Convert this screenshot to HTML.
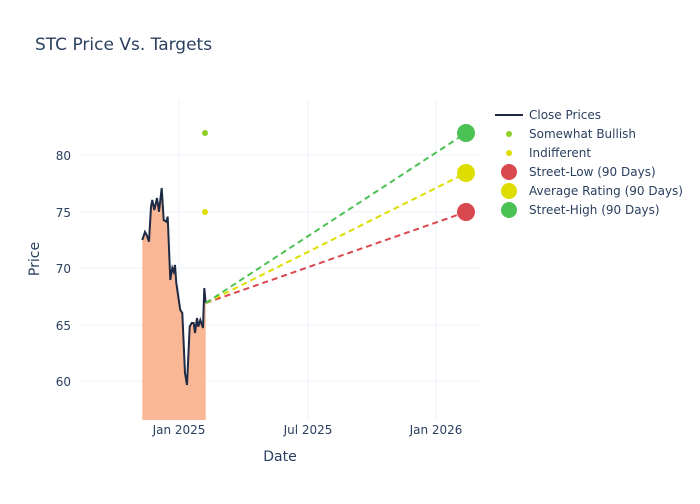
<!DOCTYPE html>
<html><head><style>
body{margin:0;background:#fff;font-family:"DejaVu Sans",sans-serif;}
svg text{font-family:"DejaVu Sans",sans-serif;fill:#2a3f5f;}
</style></head><body>
<svg width="700" height="500" xmlns="http://www.w3.org/2000/svg">
<rect width="700" height="500" fill="#fff"/>
<text x="35" y="50" font-size="17">STC Price Vs. Targets</text>
<g stroke="#ebf0f8" stroke-width="1">
<line x1="80" x2="480" y1="155" y2="155"/><line x1="80" x2="480" y1="212" y2="212"/>
<line x1="80" x2="480" y1="268" y2="268"/><line x1="80" x2="480" y1="325" y2="325"/>
<line x1="80" x2="480" y1="381" y2="381"/>
<line x1="179" x2="179" y1="100" y2="420"/><line x1="308" x2="308" y1="100" y2="420"/>
<line x1="436" x2="436" y1="100" y2="420"/>
</g>
<g font-size="12" text-anchor="end">
<text x="71" y="160">80</text><text x="71" y="217">75</text><text x="71" y="273">70</text>
<text x="71" y="330">65</text><text x="71" y="386">60</text>
</g>
<g font-size="12" text-anchor="middle">
<text x="179" y="434">Jan 2025</text><text x="308" y="434">Jul 2025</text><text x="436" y="434">Jan 2026</text>
</g>
<text x="280" y="461" font-size="14" text-anchor="middle">Date</text>
<text transform="translate(39,259) rotate(-90)" font-size="14" text-anchor="middle">Price</text>
<polygon fill="#f9b38f" opacity="0.95" points="142.3,420 142.3,240 145,232 146.7,235 149,241.7 151,206.7 152.3,200 154.3,210 157,198 159,211.7 161.7,188 163.7,220 166.3,221.7 167.7,216.7 170.3,280 172.3,268 173.7,271.7 175,265 176.3,283 178.3,296.7 180.3,310 182.3,313 185,373 187,385 189.7,326.7 191.7,323 193.7,323 195,333 197,318 198.3,326.7 200.3,320 203,328 204.3,288 205.7,303 205.7,420"/>
<polyline fill="none" stroke="#1f2a44" stroke-width="2" points="142.3,240 145,232 146.7,235 149,241.7 151,206.7 152.3,200 154.3,210 157,198 159,211.7 161.7,188 163.7,220 166.3,221.7 167.7,216.7 170.3,280 172.3,268 173.7,271.7 175,265 176.3,283 178.3,296.7 180.3,310 182.3,313 185,373 187,385 189.7,326.7 191.7,323 193.7,323 195,333 197,318 198.3,326.7 200.3,320 203,328 204.3,288 205.7,303"/>
<g stroke-width="2" stroke-dasharray="6,4" fill="none">
<line x1="205.7" y1="303" x2="466" y2="212" stroke="#d9474f"/>
<line x1="205.7" y1="303" x2="466" y2="173" stroke="#dddd00"/>
<line x1="205.7" y1="303" x2="466" y2="133" stroke="#4cc254"/>
</g>
<circle cx="205" cy="133" r="3" fill="#8fce25"/>
<circle cx="205" cy="212" r="3" fill="#dddd00"/>
<circle cx="466" cy="212" r="9" fill="#d9474f"/>
<circle cx="466" cy="173" r="9" fill="#dddd00"/>
<circle cx="466" cy="133" r="9" fill="#4cc254"/>
<g font-size="12">
<line x1="495" x2="523" y1="115" y2="115" stroke="#1f2a44" stroke-width="2"/><text x="529" y="119">Close Prices</text>
<circle cx="509" cy="134" r="3" fill="#8fce25"/><text x="529" y="138">Somewhat Bullish</text>
<circle cx="509" cy="153" r="3" fill="#dddd00"/><text x="529" y="157">Indifferent</text>
<circle cx="509" cy="172" r="8" fill="#d9474f"/><text x="529" y="176">Street-Low (90 Days)</text>
<circle cx="509" cy="191" r="8" fill="#dddd00"/><text x="529" y="195">Average Rating (90 Days)</text>
<circle cx="509" cy="210" r="8" fill="#4cc254"/><text x="529" y="214">Street-High (90 Days)</text>
</g>
</svg>
</body></html>
